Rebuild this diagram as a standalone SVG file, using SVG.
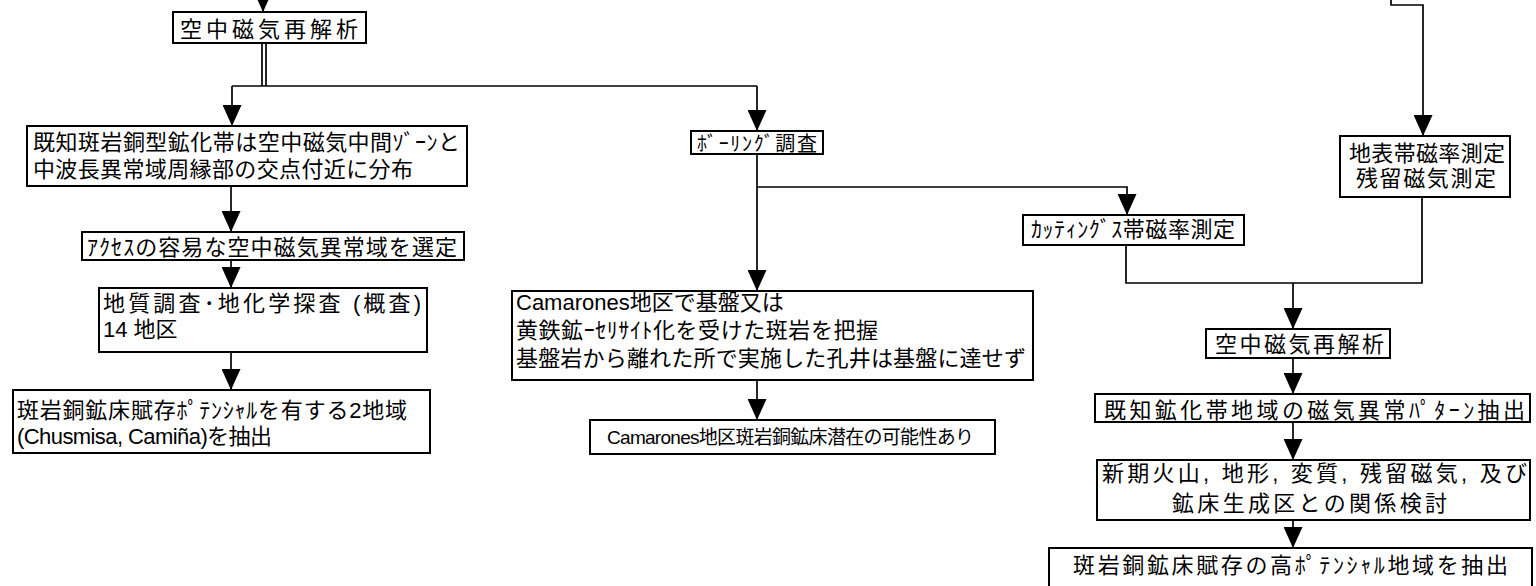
<svg xmlns="http://www.w3.org/2000/svg" width="1536" height="586" viewBox="0 0 1536 586">
<defs>
<marker id="ah" markerUnits="userSpaceOnUse" markerWidth="21" markerHeight="19" viewBox="0 0 21 19" refX="21" refY="9.5" orient="auto">
<path d="M0,0 L21,9.5 L0,19 z" fill="#000"/>
</marker>
<style>
.box{fill:#fff;stroke:#000;stroke-width:2}
.ln{fill:none;stroke:#000;stroke-width:1.7}
.ar{marker-end:url(#ah)}
.t{font-family:'Liberation Sans','Noto Sans CJK JP',sans-serif;font-size:22px;fill:#000}
</style>
</defs>
<rect width="1536" height="586" fill="#fff"/>
<g id="connectors">
<path class="ln ar" d="M263,-2 V12"/>
<path class="ln" d="M262,43 V86 M266,43 V86"/>
<path class="ln" d="M232,86 H757"/>
<path class="ln ar" d="M232,86 V126"/>
<path class="ln ar" d="M757,86 V131"/>
<path class="ln ar" d="M231,186 V232"/>
<path class="ln ar" d="M231,260 V288"/>
<path class="ln ar" d="M231,352 V390"/>
<path class="ln ar" d="M757,154 V291"/>
<path class="ln ar" d="M757,187 H1127 V215"/>
<path class="ln ar" d="M757,380 V420"/>
<path class="ln ar" d="M1391,-2 V5 H1423 V136"/>
<path class="ln" d="M1126,245 V283 H1422 V197"/>
<path class="ln ar" d="M1293,283 V329"/>
<path class="ln ar" d="M1293,358 V394"/>
<path class="ln ar" d="M1293,422 V460"/>
<path class="ln ar" d="M1293,520 V548"/>
</g>
<g id="n-airmag1">
<rect class="box" x="173" y="12" width="193" height="31"/>
<text class="t" x="180" y="37" textLength="178">空中磁気再解析</text>
</g>
<g id="n-known">
<rect class="box" x="27" y="126" width="440" height="60"/>
<text class="t" x="33" y="149.5" textLength="427">既知斑岩銅型鉱化帯は空中磁気中間ｿﾞｰﾝと</text>
<text class="t" x="33" y="176.5" textLength="380">中波長異常域周縁部の交点付近に分布</text>
</g>
<g id="n-access">
<rect class="box" x="82" y="232" width="382" height="28"/>
<text class="t" x="87" y="254.5" textLength="370">ｱｸｾｽの容易な空中磁気異常域を選定</text>
</g>
<g id="n-geol">
<rect class="box" x="99" y="288" width="328" height="64"/>
<text class="t" x="103" y="311" textLength="318">地質調査･地化学探査 (概査)</text>
<text class="t" x="103" y="337">14 地区</text>
</g>
<g id="n-two">
<rect class="box" x="13" y="390" width="417" height="63"/>
<text class="t" x="17" y="417.5" textLength="390">斑岩銅鉱床賦存ﾎﾟﾃﾝｼｬﾙを有する2地域</text>
<text class="t" x="17" y="444" textLength="255">(Chusmisa, Camiña)を抽出</text>
</g>
<g id="n-boring">
<rect class="box" x="691" y="131" width="132" height="23"/>
<text class="t" x="697" y="150.5" textLength="120" style="font-size:20px">ﾎﾞｰﾘﾝｸﾞ調査</text>
</g>
<g id="n-camarones">
<rect class="box" x="512" y="291" width="521" height="89"/>
<text class="t" x="516" y="310">Camarones地区で基盤又は</text>
<text class="t" x="516" y="338" textLength="362">黄鉄鉱ｰｾﾘｻｲﾄ化を受けた斑岩を把握</text>
<text class="t" x="516" y="366" textLength="510">基盤岩から離れた所で実施した孔井は基盤に達せず</text>
</g>
<g id="n-camarones-pot">
<rect class="box" x="590" y="420" width="405" height="34"/>
<text class="t" x="607" y="444" textLength="367" style="font-size:19px">Camarones地区斑岩銅鉱床潜在の可能性あり</text>
</g>
<g id="n-cuttings">
<rect class="box" x="1023" y="215" width="221" height="30"/>
<text class="t" x="1031" y="237" textLength="204">ｶｯﾃｨﾝｸﾞｽ帯磁率測定</text>
</g>
<g id="n-surface">
<rect class="box" x="1340" y="136" width="170" height="61"/>
<text class="t" x="1349" y="160.5" textLength="156">地表帯磁率測定</text>
<text class="t" x="1356" y="186" textLength="140">残留磁気測定</text>
</g>
<g id="n-airmag2">
<rect class="box" x="1206" y="329" width="184" height="29"/>
<text class="t" x="1215" y="352" textLength="169">空中磁気再解析</text>
</g>
<g id="n-pattern">
<rect class="box" x="1095" y="394" width="435" height="28"/>
<text class="t" x="1104" y="418" textLength="421">既知鉱化帯地域の磁気異常ﾊﾟﾀｰﾝ抽出</text>
</g>
<g id="n-relation">
<rect class="box" x="1097" y="460" width="433" height="60"/>
<text class="t" x="1102" y="481" textLength="425">新期火山, 地形, 変質, 残留磁気, 及び</text>
<text class="t" x="1172" y="510.5" textLength="275">鉱床生成区との関係検討</text>
</g>
<g id="n-high">
<rect class="box" x="1049" y="548" width="483" height="50"/>
<text class="t" x="1073" y="573" textLength="435">斑岩銅鉱床賦存の高ﾎﾟﾃﾝｼｬﾙ地域を抽出</text>
</g>
</svg>
